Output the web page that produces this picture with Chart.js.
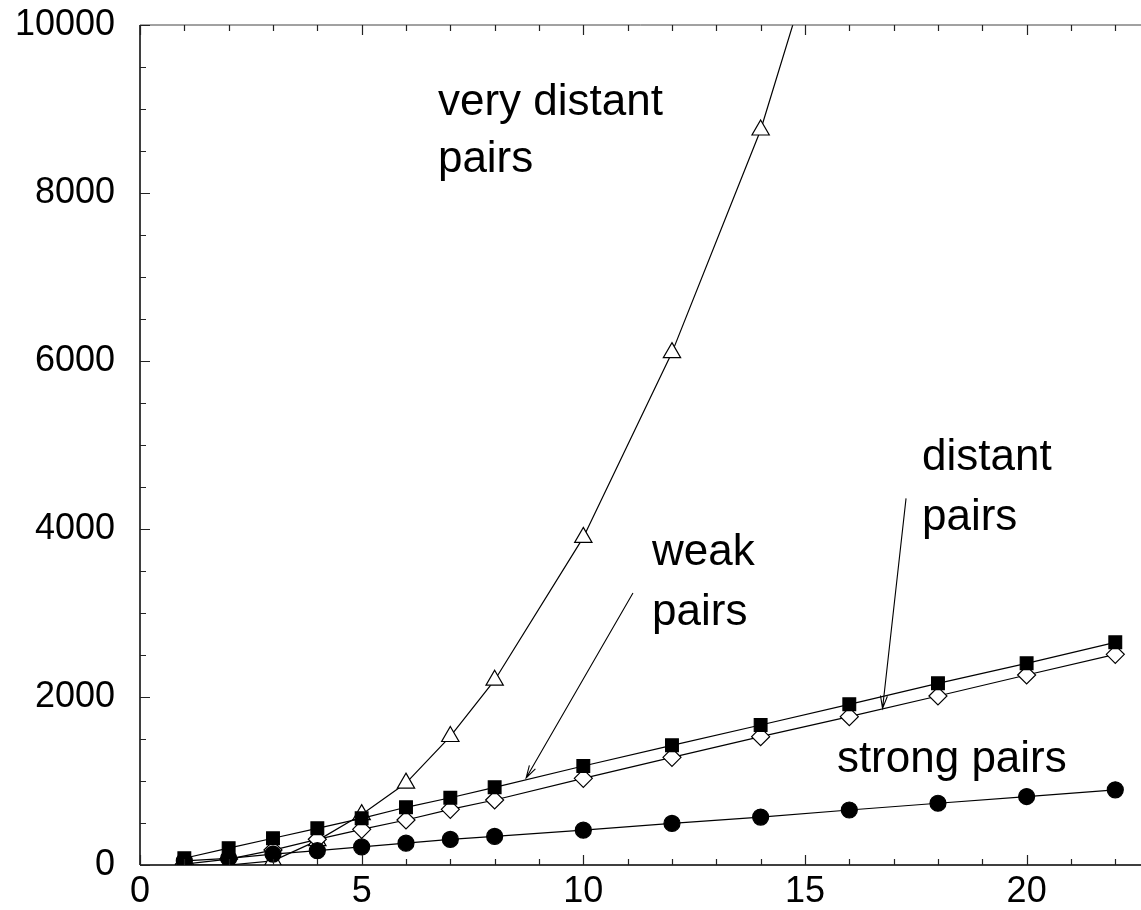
<!DOCTYPE html>
<html>
<head>
<meta charset="utf-8">
<script src="https://cdn.jsdelivr.net/npm/chart.js@4/dist/chart.umd.min.js"></script>
<style>
  html, body { margin: 0; padding: 0; background: #fff; }
  canvas { display: block; }
</style>
</head>
<body>
<canvas id="pairs" width="1141" height="910"></canvas>
<script>
// x positions shared by every series
const sizes = [1, 2, 3, 4, 5, 6, 7, 8, 10, 12, 14, 16, 18, 20, 22]

// pair counts per category
const strongPairs = [50, 80, 130, 170, 215, 260, 305, 340, 415, 495, 570, 655, 735, 815, 895]
const weakPairs = [80, 200, 318, 437, 556, 687, 801, 925, 1179, 1425, 1667, 1913, 2163, 2401, 2651]
const distantPairs = [10, 70, 178, 306, 425, 536, 663, 774, 1032, 1282, 1528, 1766, 2012, 2262, 2508]
const veryDistantPairs = [0, 0, 50, 290, 600, 975, 1530, 2200, 3900, 6100, 8750, 12200]

const xTicks = [0, 5, 10, 15, 20]
const yTicks = [0, 2000, 4000, 6000, 8000, 10000]

// text labels, placed in data units
const notes = [
  { text: "very distant", x: 6.72, y: 8929 },
  { text: "pairs", x: 6.72, y: 8250 },
  { text: "weak", x: 11.55, y: 3571 },
  { text: "pairs", x: 11.55, y: 2857 },
  { text: "distant", x: 17.64, y: 4702 },
  { text: "pairs", x: 17.64, y: 3988 },
  { text: "strong pairs", x: 15.72, y: 1107 }
]
const arrows = [
  { from: [11.12, 3238], to: [8.71, 1036] },
  { from: [17.28, 4365], to: [16.75, 1865] }
]

const toPoints = (vals) => vals.map((v, i) => ({ x: sizes[i], y: v }))

function series(vals, style, fill, radius) {
  return {
    data: toPoints(vals),
    showLine: true,
    borderColor: "#000",
    borderWidth: 1.2,
    pointStyle: style,
    pointRadius: radius,
    pointBackgroundColor: fill,
    pointBorderColor: "#000",
    pointBorderWidth: 1.2,
    tension: 0
  }
}

// gnuplot-like frame: inward ticks, notes and arrows
const frame = {
  id: "frame",
  afterDraw(chart) {
    const { ctx, chartArea: a, scales: { x, y } } = chart
    ctx.save()
    ctx.strokeStyle = "#000"
    ctx.lineWidth = 1.5
    ctx.beginPath()
    ctx.moveTo(a.left, a.top); ctx.lineTo(a.left, a.bottom)
    ctx.moveTo(a.left, a.bottom); ctx.lineTo(a.right, a.bottom)
    ctx.stroke()
    ctx.lineWidth = 1
    ctx.strokeStyle = "#444"
    ctx.beginPath()
    ctx.moveTo(a.left, a.top); ctx.lineTo(a.right, a.top)
    ctx.stroke()

    ctx.lineWidth = 1.2
    ctx.strokeStyle = "#222"
    ctx.beginPath()
    for (let v = 0; v <= x.max; v += 1) {
      const px = Math.round(x.getPixelForValue(v)) + 0.5
      const len = v % 5 === 0 ? 10 : 6
      ctx.moveTo(px, a.bottom); ctx.lineTo(px, a.bottom - len)
      ctx.moveTo(px, a.top); ctx.lineTo(px, a.top + len)
    }
    for (let v = 0; v <= y.max; v += 500) {
      const py = Math.round(y.getPixelForValue(v)) + 0.5
      const len = v % 2000 === 0 ? 10 : 6
      ctx.moveTo(a.left, py); ctx.lineTo(a.left + len, py)
    }
    ctx.stroke()

    ctx.fillStyle = "#000"
    ctx.font = "44px 'Liberation Sans', Arial, sans-serif"
    ctx.textAlign = "left"
    ctx.textBaseline = "alphabetic"
    notes.forEach(n => ctx.fillText(n.text, x.getPixelForValue(n.x), y.getPixelForValue(n.y)))

    ctx.strokeStyle = "#000"
    ctx.lineWidth = 1.1
    arrows.forEach(ar => {
      const x0 = x.getPixelForValue(ar.from[0]), y0 = y.getPixelForValue(ar.from[1])
      const x1 = x.getPixelForValue(ar.to[0]), y1 = y.getPixelForValue(ar.to[1])
      const ang = Math.atan2(y0 - y1, x0 - x1)
      const head = 13, spread = 0.27
      ctx.beginPath()
      ctx.moveTo(x0, y0); ctx.lineTo(x1, y1)
      ctx.moveTo(x1 + head * Math.cos(ang - spread), y1 + head * Math.sin(ang - spread))
      ctx.lineTo(x1, y1)
      ctx.lineTo(x1 + head * Math.cos(ang + spread), y1 + head * Math.sin(ang + spread))
      ctx.stroke()
    })
    ctx.restore()
  }
}

const tickFont = { family: "'Liberation Sans', Arial, sans-serif", size: 36 }

new Chart(document.getElementById("pairs"), {
  type: "scatter",
  data: {
    // first dataset ends up on top
    datasets: [
      series(weakPairs, "rect", "#000", 9),
      series(strongPairs, "circle", "#000", 8),
      series(distantPairs, "rectRot", "#fff", 9),
      series(veryDistantPairs, "triangle", "#fff", 10)
    ]
  },
  options: {
    responsive: false,
    animation: false,
    layout: { autoPadding: false, padding: { top: 25, right: 0, left: 0, bottom: 0 } },
    plugins: { legend: { display: false }, tooltip: { enabled: false } },
    scales: {
      x: {
        type: "linear",
        min: 0,
        max: 22.58,
        grid: { display: false, drawTicks: false },
        border: { display: false },
        afterFit: (s) => { s.height = 45; s.paddingLeft = 0; s.paddingRight = 0 },
        afterBuildTicks: (s) => { s.ticks = xTicks.map(v => ({ value: v })) },
        ticks: { font: tickFont, color: "#000", padding: 5, maxRotation: 0 }
      },
      y: {
        type: "linear",
        min: 0,
        max: 10000,
        grid: { display: false, drawTicks: false },
        border: { display: false },
        afterFit: (s) => { s.width = 140; s.paddingTop = 0; s.paddingBottom = 0 },
        afterBuildTicks: (s) => { s.ticks = yTicks.map(v => ({ value: v })) },
        ticks: { font: tickFont, color: "#000", padding: 25, callback: (v) => String(v) }
      }
    }
  },
  plugins: [frame]
})
</script>
</body>
</html>
